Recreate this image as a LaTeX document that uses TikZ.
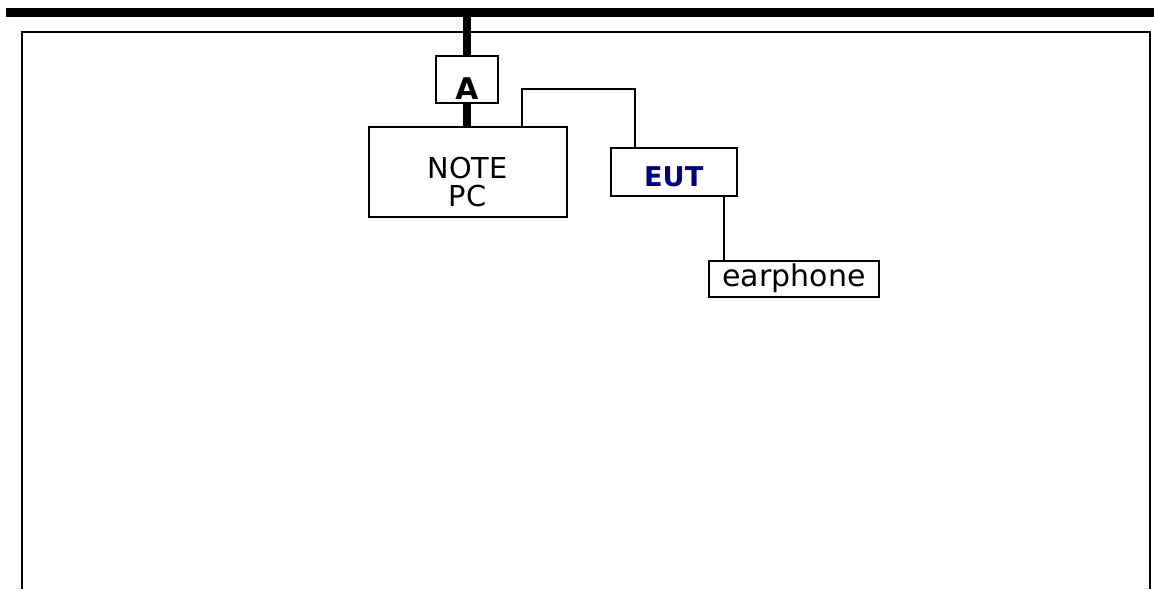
\documentclass[tikz,border=0pt]{standalone}
\usepackage{fontspec}
\setmainfont{DejaVu Sans}
\usetikzlibrary{calc}
\definecolor{INK}{HTML}{000000}
\definecolor{NAVY}{HTML}{000080}

\begin{document}
\begin{tikzpicture}[x=0.5pt,y=-0.5pt]
\tikzset{bus/.style={line width=4.2pt,INK},frm/.style={line width=1.4pt,INK},wire/.style={line width=1pt,INK},
 boxn/.style={draw,INK,line width=1pt,inner sep=0pt,anchor=base,align=center}}
\useasboundingbox (0,0) rectangle (1154,589);
\draw[frm] (22,589) -- (22,32) -- (1150,32) -- (1150,589);
\coordinate (busL) at (6,12.5);\coordinate (busR) at (1154,12.5);
\draw[bus] (busL) -- (busR);
\node[boxn,minimum width=31.2pt,text height=21.6pt,text depth=2.2pt,font=\fontsize{14.9}{15}\selectfont\bfseries] (A) at (467,99) {A};
\node[boxn,minimum width=99pt,text height=40pt,text depth=5pt,font=\fontsize{14.4}{14.2}\selectfont] (pc) at (467.6,206.7) {NOTE\\PC};
\node[boxn,minimum width=63pt,text height=18.9pt,text depth=4.9pt,text=NAVY,font=\fontsize{13.6}{14}\selectfont\bfseries] (eut) at (673.7,186) {EUT};
\node[boxn,minimum width=85pt,text height=12.9pt,text depth=5.3pt,font=\fontsize{15}{15}\selectfont] (ear) at (794,286.7) {earphone};
\draw[bus] (A.north |- busL) -- (A.north);
\draw[bus] (A.south) -- (A.south |- pc.north);
\coordinate (c1) at (522,89);\coordinate (c2) at (635,89);\coordinate (c3) at (723.7,0);
\draw[wire] (c1 |- pc.north) -- (c1) -- (c2) -- (c2 |- eut.north);
\draw[wire] (c3 |- eut.south) -- (c3 |- ear.north);
\end{tikzpicture}
\end{document}
